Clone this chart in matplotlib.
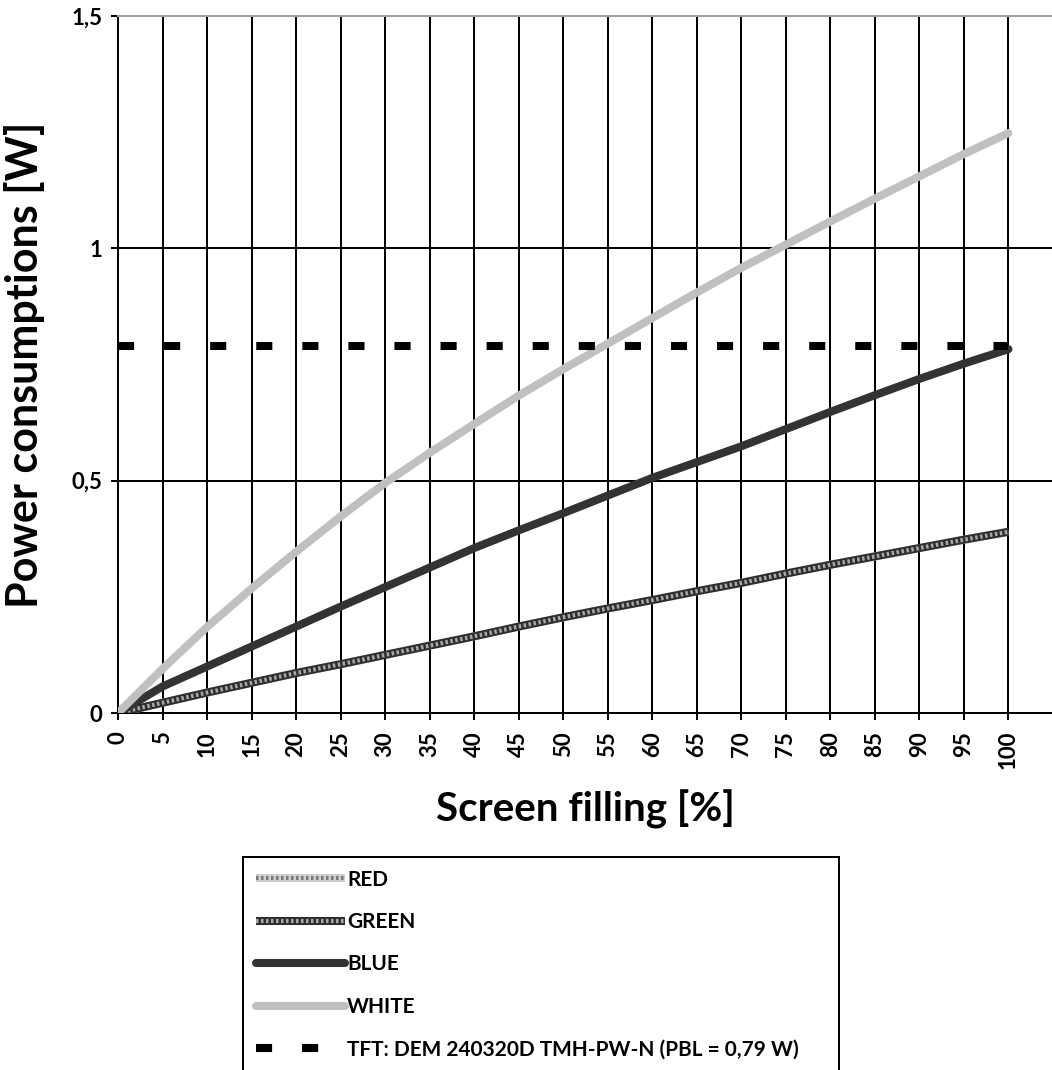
import matplotlib
matplotlib.use("Agg")
from matplotlib import pyplot as plt

plt.rcParams['font.family'] = ['Lato', 'DejaVu Sans']
plt.rcParams['font.weight'] = 'bold'

# data
filling = [0, 5, 10, 15, 20, 25, 30, 35, 40, 45, 50, 55, 60, 65, 70, 75, 80, 85, 90, 95, 100]
red = [0, 0.022, 0.044, 0.065, 0.086, 0.105, 0.125, 0.145, 0.165, 0.186, 0.206,
       0.225, 0.243, 0.262, 0.280, 0.300, 0.319, 0.337, 0.355, 0.373, 0.390]
green = [0, 0.022, 0.044, 0.065, 0.086, 0.105, 0.125, 0.145, 0.165, 0.186, 0.206,
         0.225, 0.243, 0.262, 0.280, 0.300, 0.319, 0.337, 0.355, 0.373, 0.390]
blue = [0, 0.057, 0.100, 0.143, 0.186, 0.229, 0.271, 0.313, 0.355, 0.393, 0.430,
        0.468, 0.506, 0.540, 0.574, 0.611, 0.648, 0.684, 0.719, 0.752, 0.783]
white = [0, 0.095, 0.185, 0.268, 0.347, 0.423, 0.495, 0.560, 0.622, 0.683, 0.740,
         0.795, 0.850, 0.905, 0.958, 1.008, 1.058, 1.107, 1.155, 1.203, 1.248]
tft_limit = 0.79
tft_label = "TFT: DEM 240320D TMH-PW-N (PBL = 0,79 W)"
y_ticks = [0, 0.5, 1, 1.5]
y_tick_labels = ["0", "0,5", "1", "1,5"]

fig = plt.figure(figsize=(10.52, 10.70), dpi=100)
ax = fig.add_axes([118 / 1052, 1 - 713 / 1070, 935 / 1052, 697 / 1070])

# patterned lines (red / green) = base line + fine dotted overlay
r1, = ax.plot(filling, red, color='#d0d0d0', lw=5.8, solid_capstyle='butt', zorder=3)
r2, = ax.plot(filling, red, color='#7a7a7a', lw=3.0, dashes=(0.6, 0.6), zorder=3)
g1, = ax.plot(filling, green, color='#2e2e2e', lw=5.8, solid_capstyle='butt', zorder=4)
g2, = ax.plot(filling, green, color='#a8a8a8', lw=3.0, dashes=(0.6, 0.6), zorder=4)
b, = ax.plot(filling, blue, color='#333333', lw=5.8, solid_capstyle='round', zorder=5)
w, = ax.plot(filling, white, color='#c0c0c0', lw=5.8, solid_capstyle='round', zorder=5)
t, = ax.plot([filling[0], filling[-1]], [tft_limit, tft_limit], color='black', lw=5.8,
             dashes=(2.0, 3.72), dash_capstyle='butt', zorder=6)

ax.set_xlim(0, 105)
ax.set_ylim(0, 1.5)
ax.set_xticks(filling)
ax.set_xticklabels([str(v) for v in filling], rotation=90, fontsize=16, fontweight='bold')
ax.set_yticks(y_ticks)
ax.set_yticklabels(y_tick_labels, fontsize=16, fontweight='bold')
ax.tick_params(axis='both', length=5, width=1.44, color='black')
ax.tick_params(axis='x', pad=8)
ax.tick_params(axis='y', pad=6)

ax.grid(True, color='black', lw=1.44)
ax.set_axisbelow(True)
for s in ['left', 'bottom']:
    ax.spines[s].set_linewidth(1.44)
    ax.spines[s].set_color('black')
ax.spines['right'].set_visible(False)
ax.spines['top'].set_color('#a0a0a0')
ax.spines['top'].set_linewidth(1.44)

ax.set_xlabel("Screen filling [%]", fontsize=29, fontweight='bold')
ax.xaxis.set_label_coords(0.5, -0.11)
ax.set_ylabel("Power consumptions [W]", fontsize=31, fontweight='bold')
ax.yaxis.set_label_coords(-0.078, 0.5)

leg = fig.legend([(r1, r2), (g1, g2), b, w, t], ["RED", "GREEN", "BLUE", "WHITE", tft_label],
                 loc='upper left', bbox_to_anchor=(243 / 1052, 0, 596 / 1052, 1 - 857 / 1070),
                 mode='expand', borderaxespad=0, prop={'weight': 'bold', 'size': 15},
                 handlelength=4.3, handletextpad=0.1, labelspacing=1.08, borderpad=0.6,
                 fancybox=False, framealpha=1)
leg.get_frame().set_edgecolor('black')
leg.get_frame().set_linewidth(1.44)

fig.savefig("out.png", dpi=100)
